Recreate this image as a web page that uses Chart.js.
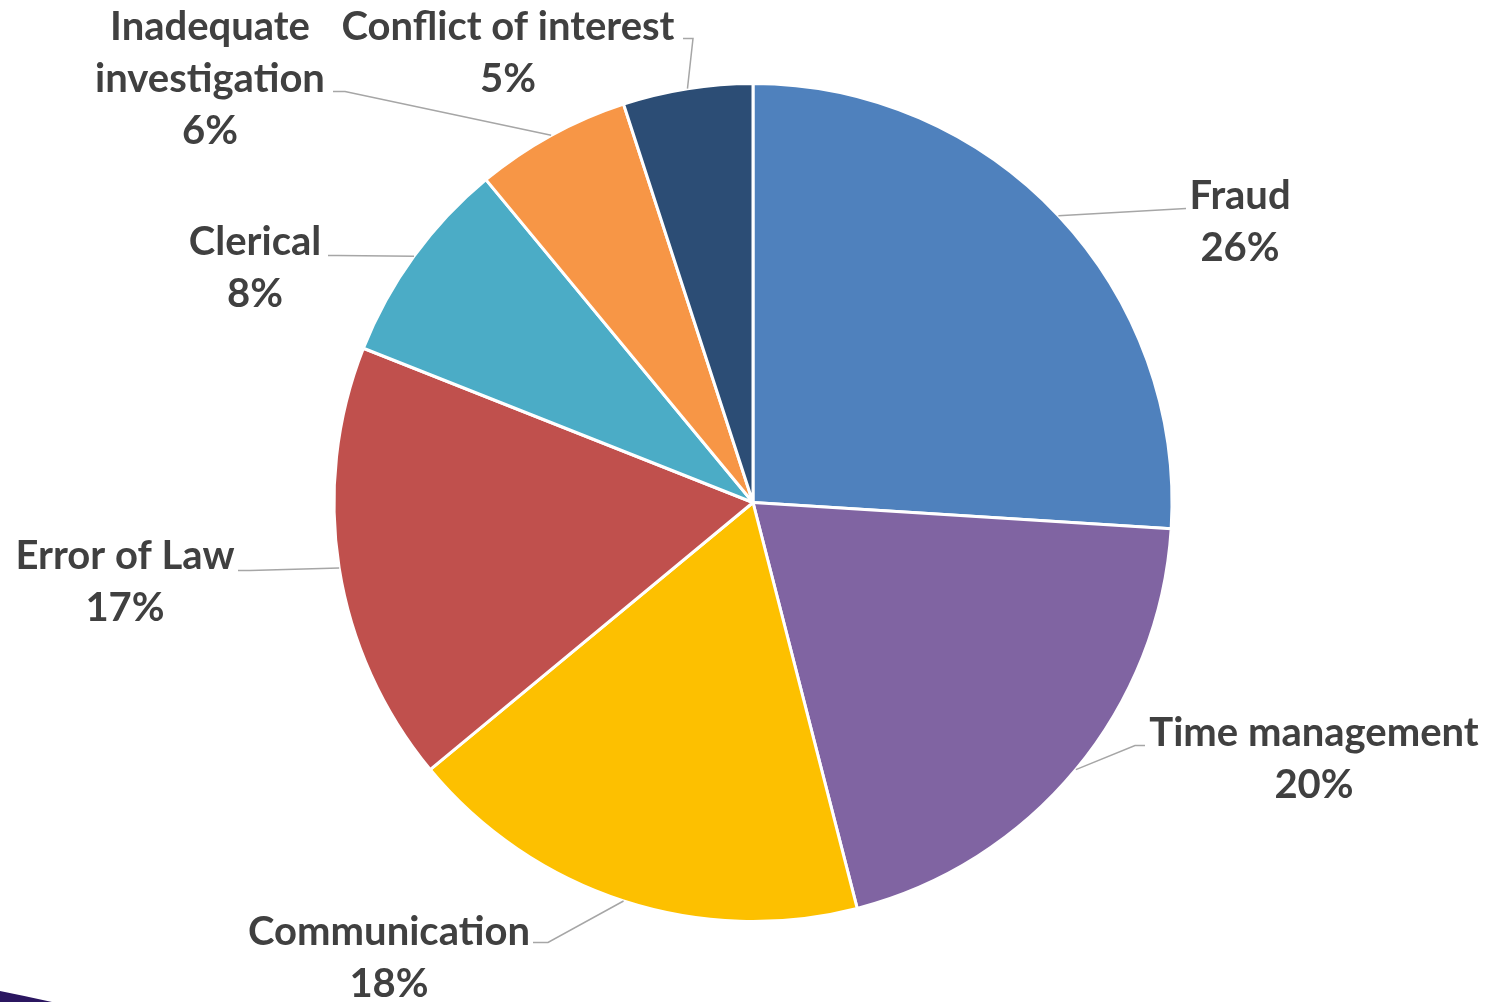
<!DOCTYPE html>
<html>
<head>
<meta charset="utf-8">
<title>Causes</title>
<script src="https://cdn.jsdelivr.net/npm/chart.js@4.4.1/dist/chart.umd.min.js"></script>
<style>
  html, body { margin: 0; padding: 0; background: #fff; }
  #wrap { width: 1491px; height: 1002px; position: relative; }
</style>
</head>
<body>
<div id="wrap"><canvas id="pie-chart"></canvas></div>
<script>
// slice data
const categories = ["Fraud", "Time management", "Communication", "Error of Law", "Clerical", "Inadequate investigation", "Conflict of interest"];
const shares = [26, 20, 18, 17, 8, 6, 5];
const sliceColors = ["#4F81BD", "#8064A2", "#FDC000", "#C0504D", "#4BACC6", "#F79646", "#2C4D75"];

// label block centre (first line) and leader elbow/end, offsets from the pie centre
const labelSpots = [
  { x: 487, y: -306, elbow: null, end: [433, -294] },
  { x: 561, y: 231, elbow: [382, 243], end: [392, 243] },
  { x: -364, y: 430, elbow: [-205, 440], end: [-220, 440] },
  { x: -628, y: 54, elbow: [-503, 68], end: [-515, 68] },
  { x: -498, y: -260, elbow: [-415, -247], end: [-425, -247] },
  { x: -543, y: -475, elbow: [-408, -411], end: [-420, -411], wrap: true },
  { x: -245, y: -475, elbow: [-60, -464], end: [-70, -464] }
];

const outsideLabels = {
  id: 'outsideLabels',
  afterDraw(chart) {
    const ctx = chart.ctx;
    const arcs = chart.getDatasetMeta(0).data;
    const total = shares.reduce((a, b) => a + b, 0);
    ctx.save();
    arcs.forEach((arc, i) => {
      const cx = arc.x, cy = arc.y;
      const mid = (arc.startAngle + arc.endAngle) / 2;
      const spot = labelSpots[i];
      // leader line from the slice edge
      ctx.strokeStyle = '#A6A6A6';
      ctx.lineWidth = 1.5;
      ctx.beginPath();
      ctx.moveTo(cx + Math.cos(mid) * arc.outerRadius, cy + Math.sin(mid) * arc.outerRadius);
      if (spot.elbow) ctx.lineTo(cx + spot.elbow[0], cy + spot.elbow[1]);
      ctx.lineTo(cx + spot.end[0], cy + spot.end[1]);
      ctx.stroke();

      const lines = spot.wrap ? categories[i].split(' ') : [categories[i]];
      lines.push(Math.round(shares[i] / total * 100) + '%');
      ctx.fillStyle = '#404040';
      ctx.font = 'bold 40px Lato';
      ctx.textAlign = 'center';
      ctx.textBaseline = 'middle';
      lines.forEach((t, k) => ctx.fillText(t, cx + spot.x, cy + spot.y + k * 52));
    });

    // corner swoosh of the slide background
    ctx.fillStyle = '#2B1660';
    ctx.beginPath();
    ctx.moveTo(0, 991);
    ctx.quadraticCurveTo(25, 996, 52, 1002);
    ctx.lineTo(0, 1002);
    ctx.closePath();
    ctx.fill();
    ctx.restore();
  }
};

new Chart(document.getElementById('pie-chart'), {
  type: 'pie',
  data: {
    labels: categories,
    datasets: [{
      data: shares,
      backgroundColor: sliceColors,
      borderColor: '#FFFFFF',
      borderWidth: 3
    }]
  },
  options: {
    responsive: true,
    maintainAspectRatio: false,
    animation: false,
    layout: { padding: { left: 15, right: 0, top: 82, bottom: 79 } },
    plugins: {
      legend: { display: false },
      tooltip: { enabled: false }
    }
  },
  plugins: [outsideLabels]
});
</script>
</body>
</html>
